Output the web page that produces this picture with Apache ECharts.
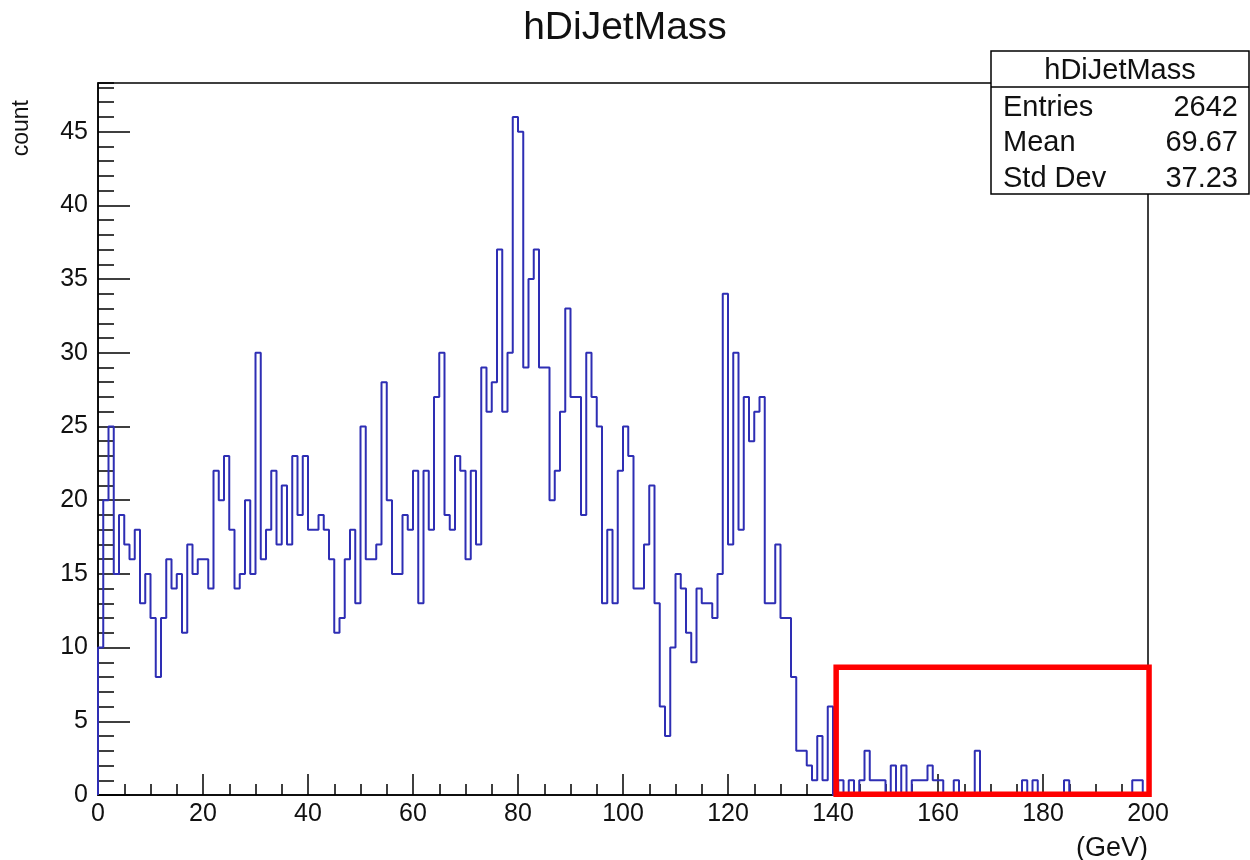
<!DOCTYPE html>
<html>
<head>
<meta charset="utf-8">
<script src="https://cdn.jsdelivr.net/npm/echarts@6/dist/echarts.min.js"></script>
<style>
html,body{margin:0;padding:0;background:#ffffff;}
#chart{width:1250px;height:860px;}
</style>
</head>
<body>
<div id="chart"></div>
<script>
// ---------------- data ----------------
const histTitle = 'hDiJetMass';
const xAxisTitle = '(GeV)';
const yAxisTitle = 'count';
const binLow = 0;      // GeV
const binWidth = 1;    // GeV
const counts = [
  10,20,25,15,19,17,16,18,13,15,
  12,8,12,16,14,15,11,17,15,16,
  16,14,22,20,23,18,14,15,20,15,
  30,16,18,22,17,21,17,23,19,23,
  18,18,19,18,16,11,12,16,18,13,
  25,16,16,17,28,20,15,15,19,18,
  22,13,22,18,27,30,19,18,23,22,
  16,22,17,29,26,28,37,26,30,46,
  45,29,35,37,29,29,20,22,26,33,
  27,27,19,30,27,25,13,18,13,22,
  25,23,14,14,17,21,13,6,4,10,
  15,14,11,9,14,13,13,12,15,34,
  17,30,18,27,24,26,27,13,13,17,
  12,12,8,3,3,2,1,4,1,6,
  0,1,0,1,0,1,3,1,1,1,
  0,2,0,2,0,1,1,1,2,1,
  1,0,0,1,0,0,0,3,0,0,
  0,0,0,0,0,0,1,0,1,0,
  0,0,0,0,1,0,0,0,0,0,
  0,0,0,0,0,0,0,1,1,0
];
const xRange = [0, 200];
const yRange = [0, 48.3];
const statsLabels = ['Entries', 'Mean', 'Std Dev'];
const statsValues = ['2642', '69.67', '37.23'];
// highlighted region (data units): [xmin, ymin] -> [xmax, ymax]
const highlightFrom = [140.6, 0.05];
const highlightTo = [200.2, 8.66];

// ---------------- build ----------------
const FONT = "'Liberation Sans', Arial, Helvetica, sans-serif";
const stepPts = [[binLow, 0]];
counts.forEach((c, i) => stepPts.push([binLow + i * binWidth, c]));
stepPts.push([binLow + counts.length * binWidth, counts[counts.length - 1]]);
stepPts.push([binLow + counts.length * binWidth, 0]);

const chart = echarts.init(document.getElementById('chart'), null, {renderer: 'canvas'});

const option = {
  animation: false,
  backgroundColor: '#ffffff',
  title: {
    text: histTitle,
    left: 'center',
    top: 4,
    textStyle: {fontFamily: FONT, fontSize: 39, fontWeight: 'normal', color: '#111'}
  },
  grid: {
    left: 98, right: 102, top: 83, bottom: 65,
    show: true, borderColor: '#000', borderWidth: 1.5,
    backgroundColor: 'transparent',
    outerBoundsMode: 'none'
  },
  xAxis: {
    type: 'value', min: xRange[0], max: xRange[1], interval: 20,
    name: xAxisTitle, nameLocation: 'end', nameGap: 0,
    nameTextStyle: {fontFamily: FONT, fontSize: 27, color: '#111', align: 'right', verticalAlign: 'top', padding: [40, 0, 0, 0]},
    axisLine: {show: true, onZero: false, lineStyle: {color: '#000', width: 1.5}},
    axisTick: {show: true, inside: true, length: 21, lineStyle: {color: '#000', width: 1.5}},
    minorTick: {show: true, splitNumber: 4, length: 11, lineStyle: {color: '#000', width: 1.5}},
    splitLine: {show: false},
    axisLabel: {fontFamily: FONT, fontSize: 25, color: '#111', margin: 7}
  },
  yAxis: [
    {
      type: 'value', min: yRange[0], max: yRange[1], interval: 5,
      axisLine: {show: true, onZero: false, lineStyle: {color: '#000', width: 1.5}},
      axisTick: {show: true, inside: true, length: 32, lineStyle: {color: '#000', width: 1.5}},
      splitLine: {show: false},
      axisLabel: {fontFamily: FONT, fontSize: 25, color: '#111', margin: 10, showMaxLabel: false}
    },
    {
      type: 'value', min: yRange[0], max: yRange[1], interval: 1, position: 'left', offset: 0,
      axisLine: {show: false},
      axisTick: {show: true, inside: true, length: 16, lineStyle: {color: '#000', width: 1.5}},
      splitLine: {show: false},
      axisLabel: {show: false}
    }
  ],
  series: [{
    type: 'line',
    step: 'end',
    data: stepPts,
    symbol: 'none',
    lineStyle: {color: '#2e2eb4', width: 2},
    clip: true,
    z: 3
  }]
};
chart.setOption(option);

// annotation rectangle through the library's scales
const p0 = chart.convertToPixel({gridIndex: 0}, highlightFrom);
const p1 = chart.convertToPixel({gridIndex: 0}, highlightTo);

const statsX = 991, statsY = 51, statsW = 258, statsH = 143, headH = 36, rowH = 35.5;
const statsChildren = [
  {type: 'rect', shape: {x: statsX, y: statsY, width: statsW, height: statsH},
   style: {fill: '#fff', stroke: '#000', lineWidth: 1.5}},
  {type: 'line', shape: {x1: statsX, y1: statsY + headH, x2: statsX + statsW, y2: statsY + headH},
   style: {stroke: '#000', lineWidth: 1.5}},
  {type: 'text', x: statsX + statsW / 2, y: statsY + headH / 2 + 2,
   style: {text: histTitle, align: 'center', verticalAlign: 'middle', font: '29px ' + FONT, fill: '#111'}}
];
statsLabels.forEach((lab, i) => {
  const cy = statsY + headH + rowH * (i + 0.5) + 3;
  statsChildren.push({type: 'text', x: statsX + 12, y: cy,
    style: {text: lab, align: 'left', verticalAlign: 'middle', font: '29px ' + FONT, fill: '#111'}});
  statsChildren.push({type: 'text', x: statsX + 247, y: cy,
    style: {text: statsValues[i], align: 'right', verticalAlign: 'middle', font: '29px ' + FONT, fill: '#111'}});
});

chart.setOption({
  graphic: [
    {type: 'text', x: 22, y: 100, rotation: Math.PI / 2,
     style: {text: yAxisTitle, align: 'right', verticalAlign: 'middle', font: '23px ' + FONT, fill: '#111'}},
    {type: 'group', z: 50, children: statsChildren},
    {type: 'rect', z: 60,
     shape: {x: p0[0], y: p1[1], width: p1[0] - p0[0], height: p0[1] - p1[1]},
     style: {fill: 'none', stroke: '#ff0000', lineWidth: 5.5}}
  ]
});
</script>
</body>
</html>
